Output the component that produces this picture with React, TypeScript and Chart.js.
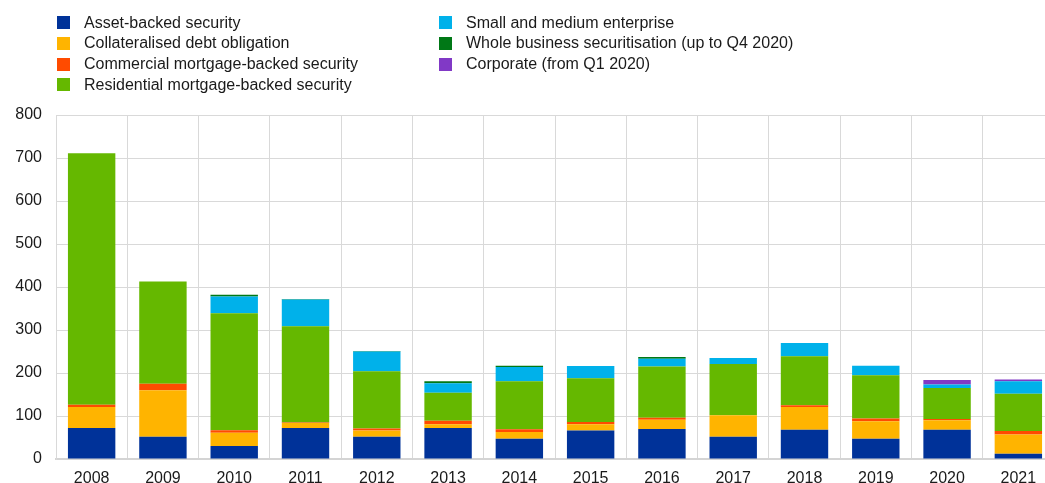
import React, { useEffect, useRef } from "react";
import { Chart, registerables } from "chart.js";

Chart.register(...registerables);

const years = ["2008", "2009", "2010", "2011", "2012", "2013", "2014", "2015", "2016", "2017", "2018", "2019", "2020", "2021"];

const assetBacked = [72, 52, 30, 72, 52, 72, 47, 66, 70, 52, 68, 47, 68, 12];
const collateralisedDebt = [49, 108, 31, 12, 14, 9, 16, 15, 21, 50, 53, 41, 22, 45];
const commercialMortgage = [5, 15, 6, 1, 5, 8, 6, 5, 5, null, 4, 6, 3, 8];
const residentialMortgage = [585, 238, 272, 224, 133, 65, 112, 102, 119, 119, 114, 101, 72, 87];
const smallMedium = [null, null, 39, 62, 46, 22, 33, 28, 18, 14, 31, 22, 8, 29];
const wholeBusiness = [null, null, 4, 1, 1, 5, 3, null, 4, null, null, null, null, null];
const corporate = [null, null, null, null, null, null, null, null, null, null, null, null, 11, 4];

const yTicks = [0, 100, 200, 300, 400, 500, 600, 700, 800];

const seriesNames = [
  "Asset-backed security",
  "Collateralised debt obligation",
  "Commercial mortgage-backed security",
  "Residential mortgage-backed security",
  "Small and medium enterprise",
  "Whole business securitisation (up to Q4 2020)",
  "Corporate (from Q1 2020)",
];
const seriesColors = ["#003299", "#FFB400", "#FF4B00", "#65B800", "#00B1EA", "#007816", "#8139C6"];
const seriesValues = [assetBacked, collateralisedDebt, commercialMortgage, residentialMortgage, smallMedium, wholeBusiness, corporate];

const FONT = "'Liberation Sans', Arial, sans-serif";

export default function App() {
  const canvasRef = useRef<HTMLCanvasElement | null>(null);

  useEffect(() => {
    const canvas = canvasRef.current;
    if (!canvas) return;
    const chart = new Chart(canvas, {
      type: "bar",
      data: {
        labels: years,
        datasets: seriesNames.map((name, i) => ({
          label: name,
          data: seriesValues[i] as any,
          backgroundColor: seriesColors[i],
          borderWidth: 0,
          barPercentage: 0.665,
          categoryPercentage: 1,
        })),
      },
      options: {
        responsive: false,
        animation: false,
        devicePixelRatio: 1,
        layout: { padding: { top: 115, left: 0, right: 2, bottom: 0 } },
        plugins: {
          legend: { display: false },
          tooltip: { enabled: false },
        },
        scales: {
          x: {
            stacked: true,
            grid: { color: "#d9d9d9", lineWidth: 1, drawTicks: false, offset: true },
            border: { color: "#d4d4d4", width: 2 },
            ticks: {
              color: "#1a1a1a",
              font: { family: FONT, size: 16 },
              padding: 10,
              maxRotation: 0,
              autoSkip: false,
            },
            afterFit: (scale: any) => {
              scale.height = 24;
            },
          },
          y: {
            stacked: true,
            min: 0,
            max: 800,
            afterBuildTicks: (scale: any) => {
              scale.ticks = yTicks.map((v) => ({ value: v }));
            },
            grid: { color: "#d9d9d9", lineWidth: 1, drawTicks: false },
            border: { color: "#d9d9d9", width: 1 },
            ticks: {
              color: "#1a1a1a",
              font: { family: FONT, size: 16 },
              padding: 14,
            },
            afterFit: (scale: any) => {
              scale.width = 56;
            },
          },
        },
      },
    });
    return () => chart.destroy();
  }, []);

  const col1 = seriesNames.slice(0, 4);
  const col2 = seriesNames.slice(4);

  const legendItem = (name: string, color: string, left: number, top: number) => (
    <div
      key={name}
      style={{
        position: "absolute",
        left,
        top,
        height: 21,
        display: "flex",
        alignItems: "center",
        whiteSpace: "nowrap",
        font: `16px ${FONT}`,
        color: "#1a1a1a",
      }}
    >
      <span style={{ display: "inline-block", width: 13, height: 13, background: color, marginRight: 14 }} />
      <span>{name}</span>
    </div>
  );

  const rowTops = [12, 32.5, 53.5, 74];

  return (
    <div style={{ position: "fixed", left: 0, top: 0, width: 1056, height: 483, background: "#fff", overflow: "hidden" }}>
      <canvas ref={canvasRef} width={1056} height={483} style={{ position: "absolute", left: 0, top: 0 }} />
      {col1.map((n, i) => legendItem(n, seriesColors[i], 57, rowTops[i]))}
      {col2.map((n, i) => legendItem(n, seriesColors[i + 4], 439, rowTops[i]))}
    </div>
  );
}
